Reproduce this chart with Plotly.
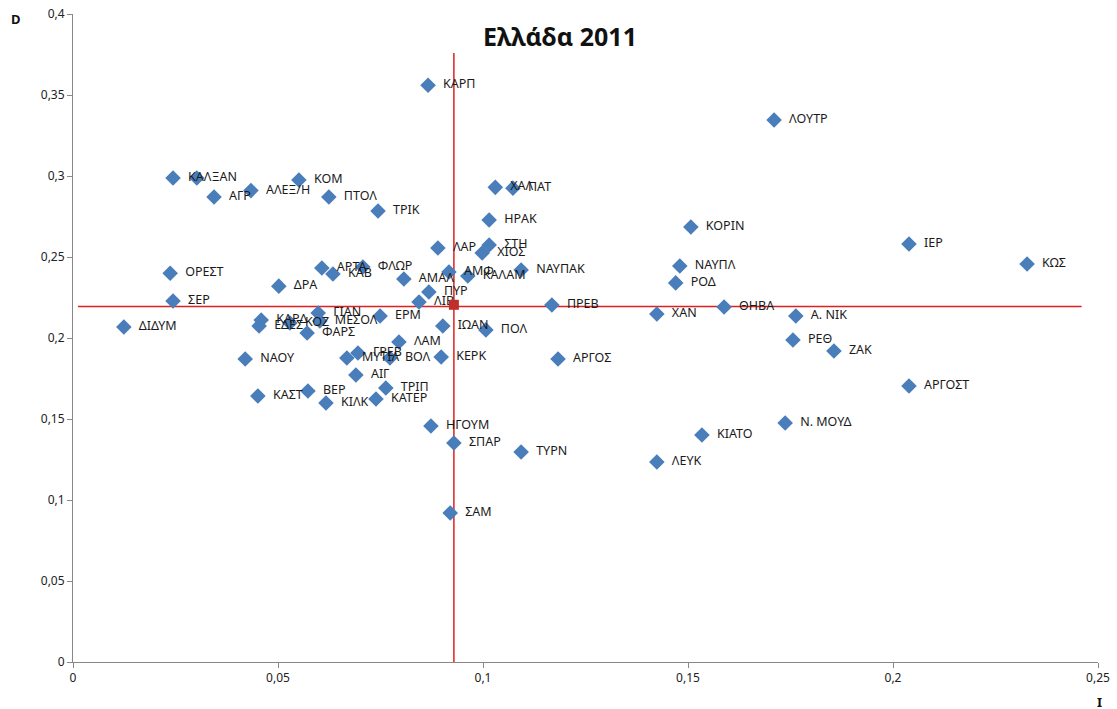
import plotly.graph_objects as go

# Data (I = x, D = y)
labels = ["ΚΑΡΠ", "ΛΟΥΤΡ", "ΚΑΛ", "ΞΑΝ", "ΑΓΡ", "ΑΛΕΞ/Η", "ΚΟΜ", "ΠΤΟΛ", "ΤΡΙΚ",
          "ΧΑΛ", "ΠΑΤ", "ΗΡΑΚ", "ΚΟΡΙΝ", "ΙΕΡ", "ΚΩΣ", "ΛΑΡ", "ΣΤΗ", "ΧΙΟΣ",
          "ΝΑΥΠΑΚ", "ΑΜΦ", "ΚΑΛΑΜ", "ΑΜΑΛ", "ΠΥΡ", "ΛΙΒ", "ΑΡΤΑ", "ΚΑΒ", "ΦΛΩΡ",
          "ΟΡΕΣΤ", "ΣΕΡ", "ΔΡΑ", "ΔΙΔΥΜ", "ΝΑΟΥ", "ΚΑΣΤ", "ΒΕΡ", "ΚΙΛΚ", "ΤΡΙΠ",
          "ΚΑΤΕΡ", "ΑΙΓ", "ΜΥΤΙΛ", "ΓΡΕΒ", "ΒΟΛ", "ΛΑΜ", "ΚΕΡΚ", "ΙΩΑΝ", "ΠΟΛ",
          "ΕΡΜ", "ΠΡΕΒ", "ΑΡΓΟΣ", "ΧΑΝ", "ΘΗΒΑ", "Α. ΝΙΚ", "ΡΕΘ", "ΖΑΚ", "ΑΡΓΟΣΤ",
          "Ν. ΜΟΥΔ", "ΚΙΑΤΟ", "ΛΕΥΚ", "ΝΑΥΠΛ", "ΡΟΔ", "ΤΥΡΝ", "ΣΠΑΡ", "ΗΓΟΥΜ", "ΣΑΜ",
          "ΚΑΡΔ", "ΕΔΕΣ", "ΚΟΖ", "ΜΕΣΟΛ", "ΓΙΑΝ", "ΦΑΡΣ"]
I_vals = [0.0866, 0.1710, 0.0244, 0.0302, 0.0344, 0.0434, 0.0551, 0.0624, 0.0744,
          0.1030, 0.1073, 0.1015, 0.1507, 0.2039, 0.2327, 0.0890, 0.1015, 0.0998,
          0.1093, 0.0917, 0.0963, 0.0807, 0.0868, 0.0844, 0.0607, 0.0634, 0.0707,
          0.0237, 0.0244, 0.0502, 0.0124, 0.0420, 0.0451, 0.0573, 0.0617, 0.0763,
          0.0739, 0.0690, 0.0668, 0.0695, 0.0773, 0.0795, 0.0898, 0.0902, 0.1007,
          0.0749, 0.1168, 0.1183, 0.1424, 0.1588, 0.1763, 0.1756, 0.1856, 0.2039,
          0.1737, 0.1534, 0.1424, 0.1480, 0.1470, 0.1093, 0.0929, 0.0873, 0.0920,
          0.0459, 0.0454, 0.0529, 0.0602, 0.0598, 0.0571]
D_vals = [0.3560, 0.3346, 0.2988, 0.2988, 0.2870, 0.2910, 0.2975, 0.2870, 0.2784,
          0.2930, 0.2925, 0.2728, 0.2685, 0.2580, 0.2457, 0.2556, 0.2574, 0.2525,
          0.2420, 0.2407, 0.2383, 0.2364, 0.2284, 0.2222, 0.2432, 0.2395, 0.2438,
          0.2400, 0.2228, 0.2320, 0.2068, 0.1870, 0.1642, 0.1673, 0.1599, 0.1691,
          0.1623, 0.1772, 0.1877, 0.1907, 0.1877, 0.1975, 0.1883, 0.2074, 0.2050,
          0.2136, 0.2204, 0.1870, 0.2148, 0.2191, 0.2136, 0.1988, 0.1920, 0.1704,
          0.1475, 0.1401, 0.1235, 0.2444, 0.2340, 0.1296, 0.1352, 0.1457, 0.0920,
          0.2111, 0.2074, 0.2093, 0.2105, 0.2154, 0.2031]

mean_I = 0.0929
mean_D = 0.2195
vline_D = [0.0, 0.376]
hline_I = [0.0012, 0.246]

x_ticks = [0, 0.05, 0.1, 0.15, 0.2, 0.25]
x_ticktext = ["0", "0,05", "0,1", "0,15", "0,2", "0,25"]
y_ticks = [0, 0.05, 0.1, 0.15, 0.2, 0.25, 0.3, 0.35, 0.4]
y_ticktext = ["0", "0,05", "0,1", "0,15", "0,2", "0,25", "0,3", "0,35", "0,4"]

FONT = "Noto Sans"
W, H = 1117, 709
ML, MR, MT, MB = 73, 19, 14, 47

fig = go.Figure()
fig.add_trace(go.Scatter(x=[mean_I, mean_I], y=vline_D, mode="lines",
                         line=dict(color="#E02020", width=1.5), showlegend=False, hoverinfo="skip"))
fig.add_trace(go.Scatter(x=hline_I, y=[mean_D, mean_D], mode="lines",
                         line=dict(color="#E02020", width=1.5), showlegend=False, hoverinfo="skip"))
fig.add_trace(go.Scatter(x=I_vals, y=D_vals, mode="markers+text", text=["  " + t for t in labels],
                         textposition="middle right",
                         textfont=dict(family=FONT, size=12.5, color="#1a1a1a"),
                         marker=dict(symbol="diamond", size=12, color="#4A7EBB"),
                         showlegend=False))
fig.add_trace(go.Scatter(x=[mean_I], y=[mean_D + 0.001], mode="markers",
                         marker=dict(symbol="square", size=10, color="#C0302A"),
                         showlegend=False))

pw = W - ML - MR
ph = H - MT - MB


def px2paper(px, py):
    return (px - ML) / pw, (H - MB - py) / ph


tx, ty = px2paper(560, 36)
dx, dy = px2paper(16, 19)
ix, iy = px2paper(1099, 702)

fig.update_layout(
    width=W, height=H,
    margin=dict(l=ML, r=MR, t=MT, b=MB, autoexpand=False),
    paper_bgcolor="white", plot_bgcolor="white",
    font=dict(family=FONT, size=12, color="#222"),
    xaxis=dict(range=[0, 0.25], tickvals=x_ticks, ticktext=x_ticktext, automargin=False,
               showgrid=False, zeroline=False, showline=True, linecolor="#888",
               linewidth=1, ticks="outside", ticklen=5, tickcolor="#888",
               tickfont=dict(family=FONT, size=12, color="#222")),
    yaxis=dict(range=[0, 0.4], tickvals=y_ticks, ticktext=y_ticktext, automargin=False,
               showgrid=False, zeroline=False, showline=True, linecolor="#888",
               linewidth=1, ticks="outside", ticklen=5, tickcolor="#888",
               tickfont=dict(family=FONT, size=12, color="#222")),
    annotations=[
        dict(text="<b>Ελλάδα 2011</b>", x=tx, y=ty, xref="paper", yref="paper",
             xanchor="center", yanchor="middle", showarrow=False,
             font=dict(family=FONT, size=25, color="#111")),
        dict(text="<b>D</b>", x=dx, y=dy, xref="paper", yref="paper",
             xanchor="center", yanchor="middle", showarrow=False,
             font=dict(family=FONT, size=13, color="#111")),
        dict(text="<b>I</b>", x=ix, y=iy, xref="paper", yref="paper",
             xanchor="center", yanchor="middle", showarrow=False,
             font=dict(family=FONT, size=13, color="#111")),
    ],
)
fig.write_html("out.html", config={"displayModeBar": False},
               post_script="document.body.style.margin='0';document.body.style.overflow='hidden';")
